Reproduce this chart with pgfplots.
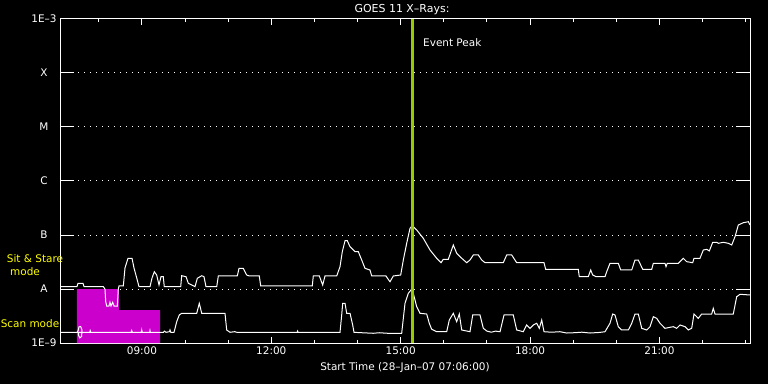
\documentclass[border=0pt]{standalone}
\usepackage{pgfplots}
\pgfplotsset{compat=1.18}
\usepackage{pgfplotstable}
\usepackage{fontspec}
\setmainfont{DejaVu Sans}
\definecolor{mag}{RGB}{204,0,204}
\definecolor{evgreen}{RGB}{153,204,0}
\definecolor{ylw}{RGB}{255,255,0}
\newcommand{\tf}{\fontsize{10.5}{12}\selectfont}

\pgfplotstableread{
h L
7.100 -7.957
7.494 -7.957
7.517 -7.894
7.633 -7.894
7.657 -7.957
8.104 -7.957
8.143 -8.000
8.160 -8.235
8.183 -8.315
8.236 -8.315
8.259 -8.246
8.283 -8.315
8.322 -8.246
8.352 -8.315
8.429 -8.315
8.452 -8.000
8.468 -7.944
8.568 -7.944
8.607 -7.611
8.677 -7.431
8.770 -7.431
8.816 -7.611
8.879 -7.796
8.932 -7.957
9.187 -7.957
9.234 -7.796
9.287 -7.680
9.342 -7.741
9.396 -7.926
9.442 -7.772
9.495 -7.772
9.518 -7.957
9.899 -7.957
9.922 -7.754
10.022 -7.772
10.075 -7.894
10.154 -7.926
10.230 -7.957
10.284 -7.802
10.386 -7.754
10.439 -7.772
10.485 -7.957
10.734 -7.957
10.771 -7.759
11.211 -7.759
11.251 -7.617
11.350 -7.617
11.429 -7.741
11.490 -7.759
11.721 -7.759
11.754 -7.944
12.950 -7.944
12.973 -7.759
13.113 -7.759
13.191 -7.926
13.245 -7.759
13.516 -7.759
13.593 -7.587
13.646 -7.309
13.709 -7.106
13.762 -7.106
13.825 -7.217
13.940 -7.309
14.017 -7.309
14.096 -7.463
14.172 -7.617
14.288 -7.648
14.328 -7.759
14.560 -7.759
14.659 -7.759
14.706 -7.815
14.752 -7.865
14.829 -7.759
15.000 -7.741
15.061 -7.463
15.139 -7.154
15.216 -6.876
15.269 -6.828
15.371 -6.907
15.524 -7.061
15.680 -7.278
15.835 -7.431
15.935 -7.513
15.988 -7.450
16.104 -7.450
16.220 -7.185
16.299 -7.339
16.415 -7.431
16.531 -7.513
16.607 -7.463
16.684 -7.370
16.800 -7.370
16.879 -7.463
16.955 -7.513
17.379 -7.513
17.458 -7.370
17.574 -7.370
17.690 -7.513
18.323 -7.513
18.362 -7.635
19.118 -7.635
19.141 -7.772
19.350 -7.772
19.406 -7.648
19.452 -7.741
19.529 -7.772
19.738 -7.772
19.777 -7.680
19.853 -7.524
20.046 -7.524
20.102 -7.648
20.357 -7.648
20.433 -7.463
20.510 -7.463
20.612 -7.635
20.821 -7.635
20.858 -7.524
21.129 -7.524
21.152 -7.587
21.182 -7.524
21.437 -7.524
21.553 -7.431
21.632 -7.494
21.771 -7.513
21.801 -7.431
21.940 -7.431
22.017 -7.278
22.096 -7.265
22.156 -7.296
22.235 -7.135
22.328 -7.135
22.365 -7.154
22.481 -7.135
22.597 -7.154
22.676 -7.185
22.752 -7.031
22.829 -6.815
22.945 -6.772
23.061 -6.754
23.100 -6.815
}\uptab

\pgfplotstableread{
h L
7.100 -8.802
7.500 -8.802
7.525 -8.760
7.540 -8.700
7.580 -8.695
7.610 -8.760
7.600 -8.880
7.560 -8.905
7.530 -8.860
7.525 -8.802
7.650 -8.802
7.790 -8.802
7.800 -8.770
7.815 -8.802
8.750 -8.802
8.763 -8.770
8.776 -8.802
8.985 -8.802
8.995 -8.760
9.005 -8.802
9.180 -8.802
9.187 -8.770
9.195 -8.802
9.500 -8.802
9.520 -8.780
9.560 -8.802
9.640 -8.790
9.651 -8.759
9.670 -8.802
9.744 -8.802
9.806 -8.606
9.866 -8.481
9.922 -8.450
10.270 -8.450
10.330 -8.265
10.386 -8.450
10.926 -8.450
10.965 -8.759
11.042 -8.802
11.150 -8.790
11.200 -8.802
12.600 -8.802
12.610 -8.780
12.620 -8.802
13.593 -8.802
13.632 -8.481
13.655 -8.265
13.709 -8.265
13.748 -8.450
13.825 -8.450
13.887 -8.667
13.917 -8.802
14.100 -8.810
14.365 -8.820
14.500 -8.810
14.700 -8.820
15.023 -8.820
15.061 -8.543
15.100 -8.265
15.176 -8.080
15.239 -8.019
15.292 -8.080
15.371 -8.328
15.448 -8.450
15.603 -8.463
15.663 -8.635
15.719 -8.746
15.835 -8.791
16.067 -8.791
16.127 -8.574
16.220 -8.450
16.299 -8.606
16.359 -8.463
16.415 -8.759
16.607 -8.791
16.670 -8.481
16.839 -8.481
16.916 -8.728
17.000 -8.780
17.100 -8.800
17.200 -8.780
17.303 -8.791
17.396 -8.481
17.611 -8.481
17.690 -8.759
17.843 -8.791
17.921 -8.667
17.998 -8.728
18.075 -8.667
18.154 -8.635
18.214 -8.728
18.270 -8.574
18.323 -8.791
18.500 -8.800
18.694 -8.791
18.850 -8.815
19.042 -8.809
19.200 -8.800
19.390 -8.815
19.600 -8.805
19.738 -8.791
19.853 -8.635
19.916 -8.463
19.969 -8.481
20.046 -8.698
20.124 -8.759
20.278 -8.759
20.357 -8.635
20.433 -8.463
20.510 -8.463
20.589 -8.728
20.705 -8.759
20.782 -8.698
20.858 -8.513
20.937 -8.543
21.013 -8.635
21.129 -8.728
21.245 -8.709
21.322 -8.698
21.400 -8.728
21.477 -8.667
21.593 -8.698
21.669 -8.759
21.748 -8.728
21.801 -8.463
21.900 -8.543
21.979 -8.463
22.211 -8.463
22.248 -8.357
22.288 -8.463
22.712 -8.463
22.791 -8.143
22.868 -8.098
23.100 -8.111
}\lowtab

\begin{document}
\begin{tikzpicture}[x=1bp,y=1bp]
\fill[black] (0,0) rectangle (768,384);
\useasboundingbox (0,0) rectangle (768,384);
% axis with the y ticks, labels and grid
\begin{axis}[
  at={(60bp,41bp)}, anchor=south west, scale only axis,
  width=690bp, height=324bp,
  xmin=7.1, xmax=23.1, ymin=-9, ymax=-3,
  xtick=\empty,
  ytick={-9,-8,-7,-6,-5,-4,-3},
  yticklabels={1E--9,A,B,C,M,X,1E--3},
  yticklabel pos=left,
  major tick length=14bp,
  ymajorgrids,
  grid style={white, line width=1bp, dash pattern=on 1bp off 5bp},
  axis line style={white, line width=1bp},
  ytick style={white, line width=1bp},
  yticklabel style={anchor=center, xshift=-16bp, text=white, font=\tf},
]
\end{axis}
% axis with the data and the x ticks
\begin{axis}[
  at={(60bp,41bp)}, anchor=south west, scale only axis,
  width=690bp, height=324bp,
  xmin=7.1, xmax=23.1, ymin=-9, ymax=-3,
  ytick=\empty,
  xtick={9,12,15,18,21},
  xticklabels={09:00,12:00,15:00,18:00,21:00},
  minor xtick={8,10,11,13,14,16,17,19,20,22,23},
  major tick length=6bp, minor tick length=3.5bp,
  axis line style={white, line width=1bp},
  xtick style={white, line width=1bp},
  xticklabel style={text=white, font=\tf},
]
\addplot[fill=mag, draw=none] coordinates {(7.494,-9) (7.494,-8) (8.468,-8) (8.468,-8.389) (9.419,-8.389) (9.419,-9)};
\addplot[white, line width=1bp] table[x=h, y=L] {\uptab};
\addplot[white, line width=1bp] table[x=h, y=L] {\lowtab};
\addplot[evgreen, line width=3bp] coordinates {(15.274,-9) (15.274,-3)};
\end{axis}
\node[white, font=\fontsize{11}{12}\selectfont] at (402,374) {GOES 11 X--Rays:};
\node[white, font=\tf] at (405,16) {Start Time (28--Jan--07 07:06:00)};
\node[white, font=\tf, anchor=west, inner sep=0pt] at (423,341) {Event Peak};
\node[ylw, font=\tf] at (35,125) {Sit \& Stare};
\node[ylw, font=\tf] at (25,112) {mode};
\node[ylw, font=\tf] at (30,60) {Scan mode};
\end{tikzpicture}
\end{document}
